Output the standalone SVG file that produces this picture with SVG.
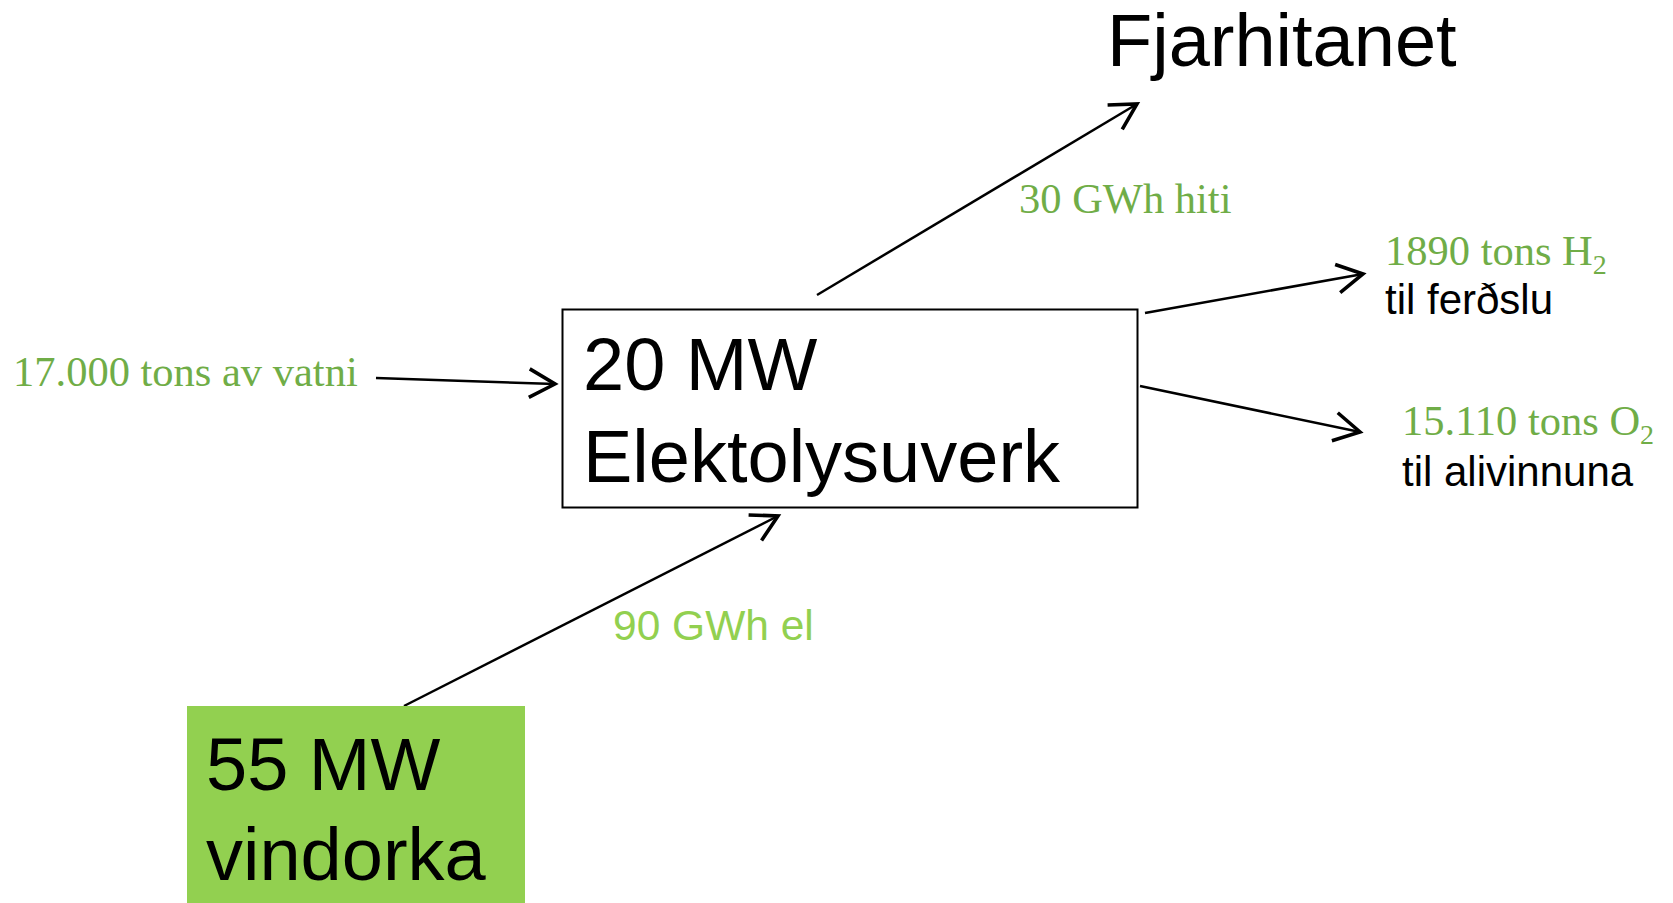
<svg xmlns="http://www.w3.org/2000/svg" width="1673" height="903" viewBox="0 0 1673 903">
<style>
.big{font-family:"Liberation Sans",Arial,sans-serif;font-size:74px;fill:#000}
.blk{font-family:"Liberation Sans",Arial,sans-serif;font-size:42px;fill:#000}
.tg{font-family:"Liberation Serif","Times New Roman",serif;font-size:42.5px;fill:#70ad47}
.lg{font-family:"Liberation Sans",Arial,sans-serif;font-size:42.5px;fill:#92d050}
.sub{font-size:28px}
.conn{stroke:#000;stroke-width:2.5;fill:none;marker-end:url(#arr)}
</style>
<defs>
<marker id="arr" markerUnits="userSpaceOnUse" markerWidth="40" markerHeight="40" refX="0" refY="0" viewBox="-22 -14 26 28" orient="auto">
<path d="M-18,-10 L0,0 L-18,10" fill="none" stroke="#000" stroke-width="2.5"/>
</marker>
</defs>
<rect width="1673" height="903" fill="#fff"/>
<g id="connectors">
<line class="conn" x1="817" y1="295" x2="1137" y2="104"/>
<line class="conn" x1="376" y1="378" x2="555" y2="384"/>
<line class="conn" x1="1145" y1="313" x2="1363" y2="274"/>
<line class="conn" x1="1140" y1="386" x2="1360" y2="432"/>
<line class="conn" x1="404" y1="706" x2="778" y2="516"/>
</g>
<g id="electrolysis">
<rect x="562.5" y="309.5" width="575" height="198" fill="#fff" stroke="#000" stroke-width="2"/>
<text class="big" x="583" y="390">20 MW</text>
<text class="big" x="583" y="482">Elektolysuverk</text>
</g>
<g id="wind">
<rect x="187" y="706" width="338" height="197" fill="#92d050"/>
<text class="big" x="206" y="790">55 MW</text>
<text class="big" x="206" y="880">vindorka</text>
</g>
<g id="district-heating">
<text class="big" x="1107" y="66">Fjarhitanet</text>
</g>
<g id="water">
<text class="tg" x="13" y="386">17.000 tons av vatni</text>
</g>
<g id="hydrogen">
<text class="tg" x="1385" y="265">1890 tons H<tspan class="sub" dy="9">2</tspan></text>
<text class="blk" x="1385" y="314">til ferðslu</text>
</g>
<g id="oxygen">
<text class="tg" x="1402" y="435">15.110 tons O<tspan class="sub" dy="9">2</tspan></text>
<text class="blk" x="1402" y="486">til alivinnuna</text>
</g>
<g id="labels">
<text class="tg" x="1019" y="213">30 GWh hiti</text>
<text class="lg" x="613" y="640">90 GWh el</text>
</g>
</svg>
